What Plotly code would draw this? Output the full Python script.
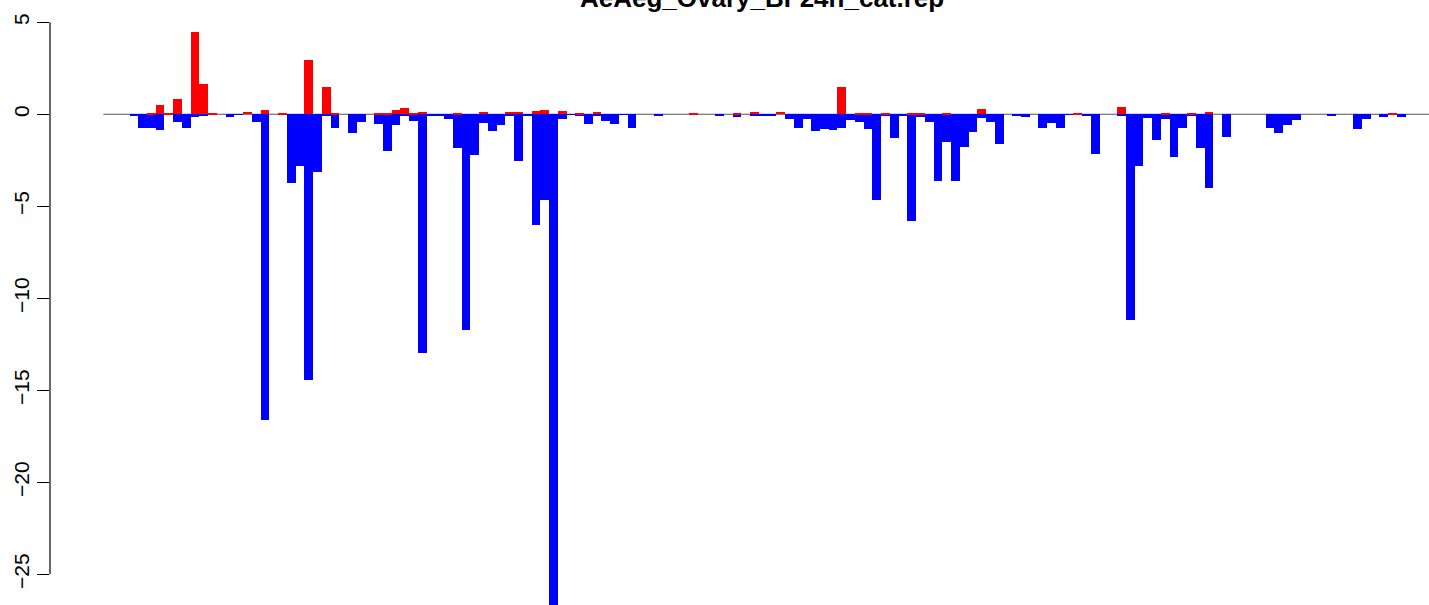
import plotly.graph_objects as go

title_text = "AeAeg_Ovary_BF24h_cat.rep"

# positive (red) and negative (blue) values for each of 149 categories
pos_values = [
    0, 0, 0, 0, 0, 0.07, 0.5, 0.07, 0.83, 0,
    4.47, 1.65, 0.07, 0, 0, 0, 0.13, 0, 0.23, 0,
    0.07, 0, 0, 2.95, 0, 1.48, 0.07, 0, 0, 0,
    0, 0.07, 0.07, 0.23, 0.34, 0.07, 0.13, 0, 0, 0,
    0.07, 0, 0, 0.13, 0, 0, 0.13, 0.13, 0, 0.18,
    0.23, 0, 0.18, 0, 0.07, 0, 0.13, 0, 0, 0,
    0, 0, 0, 0, 0, 0, 0, 0.02, 0, 0,
    0, 0, 0.07, 0, 0.13, 0, 0, 0.13, 0, 0,
    0, 0, 0, 0, 1.48, 0, 0.02, 0.07, 0, 0.07,
    0, 0, 0.02, 0.07, 0, 0, 0.07, 0, 0, 0,
    0.29, 0, 0, 0, 0, 0, 0, 0, 0, 0,
    0, 0.07, 0, 0, 0, 0, 0.4, 0, 0, 0,
    0, 0.07, 0, 0, 0.07, 0, 0.13, 0, 0, 0,
    0, 0, 0, 0, 0, 0, 0, 0, 0, 0,
    0, 0, 0, 0, 0, 0, 0, 0.07, 0,
]
neg_values = [
    0, 0, 0, -0.08, -0.73, -0.73, -0.83, 0, -0.4, -0.73,
    -0.13, -0.07, 0, 0, -0.13, -0.03, 0, -0.4, -16.6, 0,
    0, -3.73, -2.8, -14.44, -3.14, -0.07, -0.73, 0, -1.0, -0.4,
    0, -0.51, -2.0, -0.56, -0.07, -0.35, -12.95, -0.07, -0.05, -0.24,
    -1.81, -11.73, -2.2, -0.45, -0.89, -0.56, -0.05, -2.55, -0.05, -6.0,
    -4.66, -27.0, -0.24, -0.02, -0.07, -0.51, -0.07, -0.35, -0.51, -0.02,
    -0.73, 0, 0, -0.07, 0, 0, 0, 0, 0, 0,
    -0.07, 0, -0.13, 0, -0.07, -0.07, -0.07, 0, -0.24, -0.73,
    -0.24, -0.89, -0.78, -0.83, -0.73, -0.29, -0.4, -0.78, -4.66, -0.07,
    -1.27, -0.07, -5.8, -0.13, -0.4, -3.6, -1.49, -3.6, -1.76, -0.94,
    -0.18, -0.4, -1.6, 0, -0.07, -0.13, 0, -0.73, -0.45, -0.73,
    -0.03, -0.03, -0.07, -2.16, 0, 0, -0.07, -11.2, -2.8, -0.18,
    -1.38, -0.24, -2.33, -0.73, -0.07, -1.81, -4.0, 0, -1.22, 0,
    0, 0, 0, -0.73, -1.0, -0.56, -0.29, 0, 0, 0,
    -0.07, 0, 0, -0.78, -0.24, 0, -0.13, 0, -0.13,
]
categories = list(range(len(pos_values)))
y_ticks = [5, 0, -5, -10, -15, -20, -25]

x_centers = [c + 0.5 for c in categories]

fig = go.Figure()
fig.add_trace(go.Bar(x=x_centers, y=neg_values, width=1.0,
                     marker=dict(color="#0000FF", line=dict(width=0)),
                     showlegend=False, hoverinfo="skip"))
fig.add_trace(go.Bar(x=x_centers, y=pos_values, width=1.0,
                     marker=dict(color="#FF0000", line=dict(width=0)),
                     showlegend=False, hoverinfo="skip"))

font_family = "Liberation Sans, Arial, Helvetica, sans-serif"

fig.update_layout(
    width=1429, height=605,
    margin=dict(l=50, r=0, t=0, b=0),
    paper_bgcolor="white", plot_bgcolor="white",
    barmode="overlay", bargap=0,
    font=dict(family=font_family, size=21, color="black"),
    xaxis=dict(visible=False, range=[-6.098, 151.68], fixedrange=True),
    yaxis=dict(range=[-26.67, 6.21], tickvals=y_ticks,
               ticktext=[str(t).replace("-", "\u2212") for t in y_ticks],
               tickangle=-90, ticks="outside", ticklen=12, tickwidth=1,
               tickcolor="black", showgrid=False, zeroline=False,
               showline=False, tickfont=dict(size=21, family=font_family)),
    shapes=[
        dict(type="line", xref="x", yref="y", x0=0, x1=151.68, y0=0, y1=0,
             line=dict(color="#555555", width=1.2), layer="below"),
        dict(type="line", xref="paper", yref="y", x0=0, x1=0,
             y0=min(y_ticks), y1=max(y_ticks),
             line=dict(color="black", width=1.2)),
    ],
    annotations=[
        dict(text="<b>" + title_text + "</b>", xref="paper", yref="paper",
             x=(762 - 50) / 1379, y=1, xanchor="center", yanchor="middle",
             yshift=2, showarrow=False,
             font=dict(size=26, family=font_family, color="black")),
    ],
)

fig.write_html("out.html", config={"displayModeBar": False},
               post_script="document.body.style.margin='0';")
